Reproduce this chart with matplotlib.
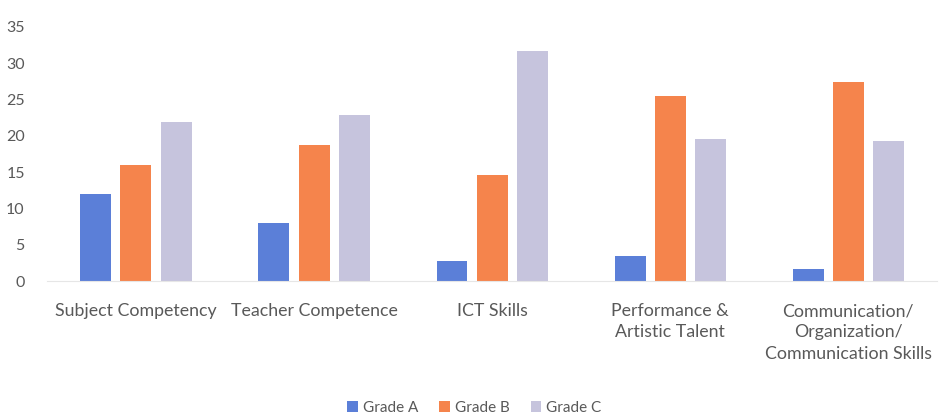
import numpy as np
import matplotlib.pyplot as plt

categories = ['Subject Competency', 'Teacher Competence', 'ICT Skills',
              'Performance &\nArtistic Talent',
              'Communication/\nOrganization/\nCommunication Skills']
grade_a = [12, 8, 2.7, 3.5, 1.7]
grade_b = [16, 18.7, 14.6, 25.5, 27.4]
grade_c = [21.9, 22.9, 31.7, 19.5, 19.3]
series = ['Grade A', 'Grade B', 'Grade C']
colors = ['#5B7FD8', '#F5844C', '#C6C4DD']

plt.rcParams['font.family'] = ['Lato', 'DejaVu Sans']

fig = plt.figure(figsize=(9.45, 4.16), dpi=100)
ax = fig.add_axes([0.0497, 0.3245, 0.942, 0.611])

x = np.arange(len(categories))
width = 0.174
step = 0.225
for i, (vals, name) in enumerate(zip([grade_a, grade_b, grade_c], series)):
    ax.bar(x + (i - 1) * step, vals, width=width, color=colors[i], label=name)

ax.set_xlim(-0.5, len(categories) - 0.5)
ax.set_ylim(0, 35)
ax.set_yticks(np.arange(0, 36, 5))
ax.set_xticks(x)
ax.set_xticklabels(categories, fontsize=12.8, color='#595959', linespacing=1.4)
ax.tick_params(axis='y', labelsize=11.5, labelcolor='#595959', length=0, pad=16)
ax.tick_params(axis='x', length=0, pad=16)
for s in ['top', 'right', 'left']:
    ax.spines[s].set_visible(False)
ax.spines['bottom'].set_color('#E6E6E6')

ax.legend(loc='center', bbox_to_anchor=(0.48, -0.5), ncol=3, frameon=False,
          fontsize=11, labelcolor='#595959', handlelength=0.7, handleheight=0.7,
          handletextpad=0.3, columnspacing=1.4)

plt.savefig('out.png')
